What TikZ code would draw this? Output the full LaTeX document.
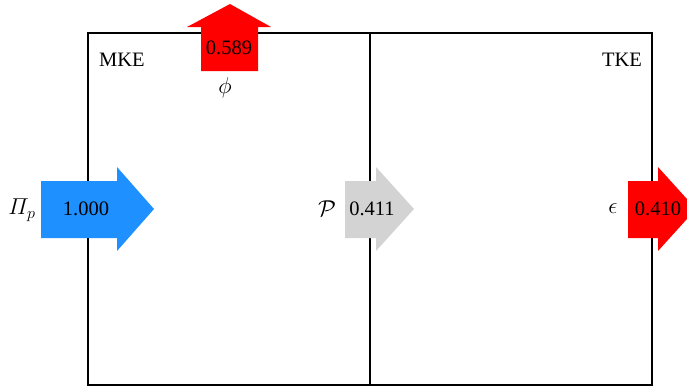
\documentclass[tikz,border=0pt]{standalone}
\usepackage{fix-cm}
\usepackage{amsmath}
\usepackage{fontspec}
\setmainfont{Liberation Serif}
\definecolor{flowblue}{HTML}{1E90FF}
\definecolor{flowgray}{HTML}{D3D3D3}
\definecolor{flowred}{HTML}{FF0000}
\tikzset{
  boxline/.style={line width=2.2pt, draw=black},
  lbl/.style={inner sep=0pt, font=\fontsize{20.5}{24}\selectfont},
  mlbl/.style={inner sep=0pt, font=\fontsize{23}{26}\selectfont},
}
\begin{document}
\begin{tikzpicture}[x=1pt,y=-1pt]
\useasboundingbox (0,0) rectangle (687,388);
\clip (0,0) rectangle (687,388);
% box
\draw[boxline] (88,33) rectangle (652,385);
\draw[boxline] (370,33) -- (370,385);
% arrows
\fill[flowblue] (41,181) -- (117,181) -- (117,167) -- (154,209) -- (117,251) -- (117,238) -- (41,238) -- cycle;
\fill[flowgray] (345,181) -- (376,181) -- (376,167) -- (414,209) -- (376,251) -- (376,238) -- (345,238) -- cycle;
\fill[flowred] (628,181) -- (658,181) -- (658,167) -- (696,209) -- (658,251) -- (658,238) -- (628,238) -- cycle;
\fill[flowred] (201,71) -- (201,27) -- (187,27) -- (230,4) -- (271,27) -- (258,27) -- (258,71) -- cycle;
% labels
\node[lbl] (mke) at (122,60) {MKE};
\node[lbl] (tke) at (622,60) {TKE};
\node[lbl] (vin) at (86,209) {1.000};
\node[lbl] (vp) at (372,209) {0.411};
\node[lbl] (veps) at (658,209) {0.410};
\node[lbl] (vphi) at (229,48) {0.589};
\node[mlbl] (lphi) at (225,88) {$\phi$};
\node[mlbl] (lpi) at (22,210) {$\varPi_p$};
\node[mlbl] (lp) at (327,209) {$\mathcal{P}$};
\node[mlbl] (leps) at (613,209) {$\epsilon$};
\end{tikzpicture}
\end{document}
